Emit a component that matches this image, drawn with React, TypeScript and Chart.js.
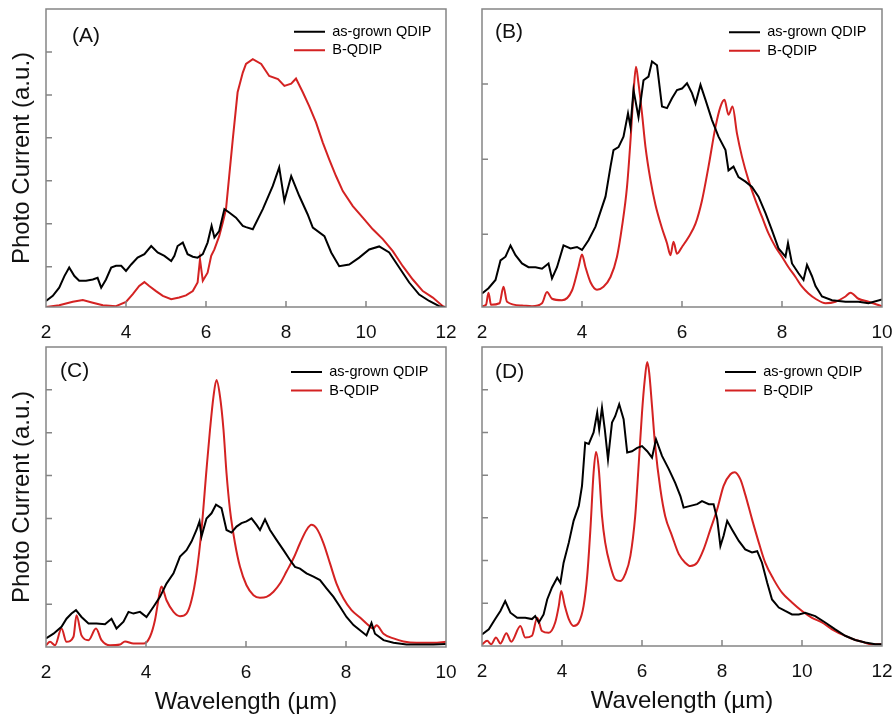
import React, { useEffect, useRef } from 'react';
import { Chart, registerables } from 'chart.js';

Chart.register(...registerables);

const W = 894;
const H = 717;
const FONT = "Arial, 'Liberation Sans', sans-serif";
const BLACK = '#000000';
const RED = '#d42222';
const TEXT = '#111111';
const FRAME = '#858585';

const seriesLabels = ['as-grown QDIP', 'B-QDIP'];
const panelLabels = ['(A)', '(B)', '(C)', '(D)'];
const yAxisTitle = 'Photo Current (a.u.)';
const xAxisTitle = 'Wavelength (\u00b5m)';

// ---------- Panel A ----------
const aBlackX = [2.0, 2.17, 2.33, 2.46, 2.58, 2.71, 2.83, 3.0, 3.17, 3.29, 3.38, 3.5, 3.63, 3.75, 3.88, 4.0, 4.13, 4.29, 4.46, 4.63, 4.79, 4.96, 5.13, 5.21, 5.29, 5.42, 5.54, 5.67, 5.79, 5.92, 6.04, 6.14, 6.21, 6.33, 6.46, 6.58, 6.75, 6.92, 7.0, 7.17, 7.42, 7.67, 7.83, 7.96, 8.13, 8.33, 8.54, 8.67, 8.96, 9.13, 9.33, 9.58, 9.83, 10.08, 10.33, 10.58, 10.83, 11.08, 11.33, 11.58, 11.83, 12.0];
const aBlackY = [0.20, 0.32, 0.51, 0.78, 0.98, 0.78, 0.67, 0.67, 0.70, 0.74, 0.51, 0.70, 0.98, 1.02, 1.02, 0.90, 1.05, 1.21, 1.29, 1.48, 1.33, 1.25, 1.13, 1.25, 1.48, 1.56, 1.29, 1.23, 1.21, 1.29, 1.56, 1.95, 1.68, 1.83, 2.34, 2.26, 2.14, 1.95, 1.92, 1.87, 2.34, 2.88, 3.31, 2.53, 3.11, 2.65, 2.22, 1.91, 1.71, 1.33, 1.01, 1.05, 1.21, 1.40, 1.47, 1.33, 0.98, 0.63, 0.35, 0.20, 0.08, 0.05];
const aRedX = [2.0, 2.33, 2.67, 2.92, 3.17, 3.42, 3.75, 4.0, 4.17, 4.33, 4.46, 4.58, 4.75, 4.92, 5.13, 5.33, 5.5, 5.67, 5.79, 5.85, 5.92, 6.04, 6.13, 6.21, 6.33, 6.42, 6.5, 6.58, 6.67, 6.79, 6.92, 7.0, 7.17, 7.38, 7.58, 7.8, 7.96, 8.13, 8.25, 8.42, 8.58, 8.75, 8.92, 9.08, 9.25, 9.42, 9.67, 9.92, 10.17, 10.42, 10.67, 10.92, 11.17, 11.42, 11.67, 11.92, 12.0];
const aRedY = [0.06, 0.10, 0.18, 0.22, 0.16, 0.10, 0.08, 0.18, 0.36, 0.55, 0.64, 0.55, 0.43, 0.32, 0.24, 0.28, 0.33, 0.43, 0.63, 1.17, 0.67, 0.86, 1.25, 1.40, 1.71, 2.03, 2.34, 3.11, 3.97, 5.06, 5.52, 5.72, 5.83, 5.72, 5.44, 5.37, 5.21, 5.26, 5.38, 5.06, 4.74, 4.36, 3.89, 3.50, 3.11, 2.76, 2.41, 2.14, 1.87, 1.64, 1.36, 1.01, 0.70, 0.43, 0.28, 0.08, 0.05];

// ---------- Panel B ----------
const bBlackX = [2, 2.13, 2.27, 2.37, 2.47, 2.57, 2.67, 2.8, 2.93, 3.07, 3.2, 3.33, 3.4, 3.5, 3.63, 3.77, 3.9, 4.0, 4.13, 4.27, 4.37, 4.47, 4.57, 4.63, 4.73, 4.83, 4.92, 4.97, 5.03, 5.13, 5.23, 5.33, 5.4, 5.5, 5.6, 5.7, 5.8, 5.9, 6.0, 6.1, 6.2, 6.27, 6.37, 6.47, 6.6, 6.73, 6.87, 6.93, 7.03, 7.13, 7.27, 7.4, 7.53, 7.67, 7.8, 7.93, 8.07, 8.12, 8.2, 8.33, 8.43, 8.5, 8.6, 8.67, 8.8, 9.0, 9.27, 9.53, 9.73, 10];
const bBlackY = [0.21, 0.28, 0.39, 0.65, 0.70, 0.85, 0.72, 0.61, 0.56, 0.56, 0.54, 0.61, 0.41, 0.56, 0.85, 0.81, 0.83, 0.79, 0.92, 1.10, 1.30, 1.50, 1.90, 2.12, 2.16, 2.30, 2.61, 2.43, 2.92, 2.56, 3.05, 3.10, 3.30, 3.25, 2.70, 2.68, 2.81, 2.92, 2.94, 3.01, 2.88, 2.74, 2.99, 2.79, 2.52, 2.30, 2.12, 1.85, 1.90, 1.76, 1.70, 1.63, 1.50, 1.28, 1.05, 0.81, 0.70, 0.88, 0.61, 0.48, 0.39, 0.59, 0.44, 0.31, 0.17, 0.12, 0.10, 0.10, 0.08, 0.13];
const bRedX = [2, 2.08, 2.13, 2.18, 2.35, 2.43, 2.5, 2.8, 3.0, 3.2, 3.3, 3.4, 3.6, 3.8, 3.93, 4.0, 4.07, 4.17, 4.3, 4.43, 4.57, 4.7, 4.8, 4.9, 4.97, 5.03, 5.08, 5.13, 5.2, 5.27, 5.37, 5.47, 5.6, 5.7, 5.77, 5.83, 5.9, 6.0, 6.13, 6.27, 6.4, 6.53, 6.67, 6.77, 6.85, 6.93, 7.01, 7.1, 7.2, 7.33, 7.47, 7.6, 7.73, 7.87, 8.0, 8.13, 8.27, 8.4, 8.53, 8.67, 8.87, 9.07, 9.27, 9.37, 9.53, 9.73, 10];
const bRedY = [0.04, 0.06, 0.22, 0.06, 0.08, 0.30, 0.10, 0.05, 0.04, 0.08, 0.23, 0.14, 0.12, 0.25, 0.56, 0.73, 0.56, 0.36, 0.26, 0.30, 0.43, 0.70, 1.10, 1.63, 2.25, 2.88, 3.23, 3.01, 2.61, 2.16, 1.72, 1.39, 1.08, 0.88, 0.72, 0.90, 0.74, 0.83, 0.96, 1.14, 1.45, 1.90, 2.43, 2.70, 2.79, 2.59, 2.70, 2.34, 2.03, 1.72, 1.45, 1.23, 1.01, 0.83, 0.70, 0.56, 0.43, 0.30, 0.21, 0.14, 0.08, 0.10, 0.17, 0.22, 0.14, 0.10, 0.04];

// ---------- Panel C ----------
const cBlackX = [2, 2.15, 2.31, 2.41, 2.51, 2.6, 2.71, 2.85, 3.01, 3.18, 3.31, 3.41, 3.55, 3.65, 3.75, 3.88, 4.01, 4.15, 4.28, 4.41, 4.55, 4.68, 4.81, 4.91, 5.01, 5.07, 5.11, 5.21, 5.31, 5.4, 5.51, 5.61, 5.71, 5.81, 5.91, 6.01, 6.11, 6.21, 6.28, 6.38, 6.48, 6.61, 6.75, 6.88, 6.98, 7.08, 7.21, 7.35, 7.48, 7.61, 7.75, 7.88, 8.01, 8.15, 8.28, 8.41, 8.51, 8.58, 8.75, 8.95, 9.21, 9.48, 9.75, 10];
const cBlackY = [0.20, 0.31, 0.47, 0.66, 0.78, 0.86, 0.70, 0.55, 0.55, 0.53, 0.66, 0.43, 0.59, 0.82, 0.78, 0.82, 0.70, 0.94, 1.17, 1.48, 1.72, 2.11, 2.26, 2.46, 2.73, 2.93, 2.58, 3.0, 3.12, 3.32, 3.24, 2.73, 2.67, 2.81, 2.89, 2.93, 3.0, 2.85, 2.73, 2.98, 2.73, 2.50, 2.26, 2.03, 1.87, 1.83, 1.72, 1.64, 1.56, 1.37, 1.17, 0.94, 0.70, 0.51, 0.39, 0.27, 0.56, 0.31, 0.16, 0.10, 0.06, 0.06, 0.06, 0.07];
const cRedX = [2, 2.08, 2.18, 2.31, 2.41, 2.55, 2.61, 2.71, 2.85, 3.0, 3.11, 3.28, 3.48, 3.58, 3.75, 3.95, 4.08, 4.18, 4.27, 4.31, 4.41, 4.55, 4.68, 4.81, 4.91, 5.01, 5.11, 5.21, 5.28, 5.35, 5.41, 5.48, 5.55, 5.61, 5.68, 5.78, 5.88, 6.01, 6.15, 6.28, 6.41, 6.55, 6.68, 6.81, 6.95, 7.08, 7.21, 7.31, 7.41, 7.55, 7.68, 7.81, 7.95, 8.11, 8.28, 8.41, 8.55, 8.61, 8.75, 8.95, 9.15, 9.41, 9.75, 10];
const cRedY = [0.04, 0.12, 0.04, 0.43, 0.12, 0.24, 0.74, 0.27, 0.16, 0.43, 0.16, 0.04, 0.06, 0.13, 0.08, 0.08, 0.24, 0.63, 1.25, 1.41, 1.09, 0.82, 0.72, 0.78, 1.09, 1.72, 2.73, 4.14, 5.07, 5.85, 6.23, 5.85, 5.07, 4.06, 3.20, 2.42, 1.87, 1.44, 1.21, 1.15, 1.17, 1.29, 1.48, 1.76, 2.07, 2.42, 2.73, 2.85, 2.77, 2.42, 1.95, 1.48, 1.13, 0.86, 0.69, 0.55, 0.43, 0.51, 0.31, 0.20, 0.13, 0.10, 0.10, 0.12];

// ---------- Panel D ----------
const dBlackX = [2, 2.17, 2.33, 2.46, 2.58, 2.71, 2.88, 3.08, 3.25, 3.33, 3.42, 3.54, 3.63, 3.75, 3.88, 3.96, 4.04, 4.17, 4.29, 4.42, 4.5, 4.58, 4.67, 4.79, 4.88, 4.93, 5.0, 5.07, 5.15, 5.25, 5.33, 5.43, 5.54, 5.63, 5.75, 5.88, 6.0, 6.13, 6.25, 6.35, 6.5, 6.67, 6.83, 6.96, 7.04, 7.21, 7.38, 7.5, 7.67, 7.79, 7.88, 7.96, 8.04, 8.13, 8.25, 8.42, 8.58, 8.75, 8.88, 9.0, 9.13, 9.25, 9.42, 9.58, 9.75, 9.92, 10.08, 10.33, 10.58, 10.83, 11.08, 11.33, 11.58, 11.83, 12];
const dBlackY = [0.27, 0.39, 0.63, 0.82, 1.05, 0.78, 0.66, 0.66, 0.63, 0.70, 0.55, 0.74, 1.09, 1.37, 1.60, 1.48, 1.95, 2.42, 2.93, 3.28, 3.75, 4.76, 4.73, 5.0, 5.46, 5.07, 5.58, 5.07, 4.37, 5.23, 5.38, 5.66, 5.31, 4.53, 4.56, 4.64, 4.68, 4.56, 4.41, 4.84, 4.45, 4.14, 3.82, 3.51, 3.24, 3.28, 3.32, 3.39, 3.32, 3.32, 2.97, 2.34, 2.58, 2.93, 2.73, 2.46, 2.26, 2.19, 2.22, 1.95, 1.48, 1.09, 0.90, 0.82, 0.74, 0.74, 0.78, 0.70, 0.55, 0.39, 0.24, 0.14, 0.08, 0.04, 0.04];
const dRedX = [2, 2.13, 2.23, 2.35, 2.46, 2.61, 2.73, 2.96, 3.08, 3.25, 3.38, 3.5, 3.67, 3.83, 3.92, 3.98, 4.07, 4.17, 4.29, 4.42, 4.54, 4.63, 4.71, 4.79, 4.85, 4.92, 5.0, 5.08, 5.21, 5.33, 5.46, 5.58, 5.71, 5.83, 5.92, 6.0, 6.07, 6.13, 6.18, 6.25, 6.33, 6.46, 6.58, 6.75, 6.92, 7.08, 7.21, 7.38, 7.54, 7.71, 7.88, 8.04, 8.21, 8.32, 8.46, 8.58, 8.75, 8.92, 9.08, 9.29, 9.5, 9.75, 10.0, 10.25, 10.5, 10.75, 11.0, 11.25, 11.5, 11.75, 12];
const dRedY = [0.04, 0.12, 0.04, 0.20, 0.06, 0.30, 0.10, 0.47, 0.20, 0.24, 0.66, 0.35, 0.31, 0.55, 0.94, 1.29, 0.94, 0.63, 0.47, 0.55, 0.94, 1.64, 2.73, 4.06, 4.54, 4.14, 3.04, 2.42, 1.87, 1.56, 1.52, 1.68, 2.11, 3.04, 4.29, 5.46, 6.24, 6.65, 6.40, 5.62, 4.68, 3.67, 3.04, 2.58, 2.15, 1.95, 1.87, 1.95, 2.26, 2.73, 3.20, 3.75, 4.02, 4.07, 3.90, 3.55, 2.97, 2.42, 1.95, 1.56, 1.25, 1.02, 0.82, 0.66, 0.55, 0.39, 0.27, 0.17, 0.10, 0.04, 0.04];

type PanelSpec = {
  id: string;
  label: string;
  blackX: number[]; blackY: number[];
  redX: number[]; redY: number[];
  xMax: number; yMin: number; yMax: number;
  area: { l: number; t: number; r: number; b: number };
  yW: number; xH: number;
  showYTitle: boolean; showXTitle: boolean;
  labelDx: number; labelDy: number;
  legendDx: number; legendDy: number;
  redSmooth: boolean;
};

const panels: PanelSpec[] = [
  { id: 'A', label: panelLabels[0], blackX: aBlackX, blackY: aBlackY, redX: aRedX, redY: aRedY,
    xMax: 12, yMin: 0.06, yMax: 7, area: { l: 46, t: 9, r: 446, b: 307 }, yW: 46, xH: 40,
    showYTitle: true, showXTitle: false, labelDx: 26, labelDy: 27.4, legendDx: 152, legendDy: 22.7, redSmooth: false },
  { id: 'B', label: panelLabels[1], blackX: bBlackX, blackY: bBlackY, redX: bRedX, redY: bRedY,
    xMax: 10, yMin: 0.03, yMax: 4, area: { l: 482, t: 9, r: 882, b: 307 }, yW: 35, xH: 40,
    showYTitle: false, showXTitle: false, labelDx: 13, labelDy: 23.4, legendDx: 153, legendDy: 23.3, redSmooth: true },
  { id: 'C', label: panelLabels[2], blackX: cBlackX, blackY: cBlackY, redX: cRedX, redY: cRedY,
    xMax: 10, yMin: 0, yMax: 7, area: { l: 46, t: 347, r: 446, b: 647 }, yW: 46, xH: 70,
    showYTitle: true, showXTitle: true, labelDx: 14, labelDy: 24.4, legendDx: 155, legendDy: 25, redSmooth: true },
  { id: 'D', label: panelLabels[3], blackX: dBlackX, blackY: dBlackY, redX: dRedX, redY: dRedY,
    xMax: 12, yMin: 0, yMax: 7, area: { l: 482, t: 347, r: 882, b: 646 }, yW: 35, xH: 70,
    showYTitle: false, showXTitle: true, labelDx: 13, labelDy: 24.9, legendDx: 157, legendDy: 25, redSmooth: true },
];

const LEGEND_PAD = 4;
const LEGEND_FONT = 14.5;

const panelDecor = {
  id: 'panelDecor',
  afterLayout(chart: any, _args: any, opts: any) {
    const lg = chart.legend;
    const ca = chart.chartArea;
    if (!lg || !ca) return;
    const targetLeft = ca.right - opts.legendDx - LEGEND_PAD;
    const targetTop = ca.top + opts.legendDy - LEGEND_PAD - LEGEND_FONT / 2;
    const dx = targetLeft - lg.left;
    const dy = targetTop - lg.top;
    lg.left += dx; lg.right += dx;
    lg.top += dy; lg.bottom += dy;
  },
  afterDraw(chart: any, _args: any, opts: any) {
    const { ctx, chartArea: ca } = chart;
    const xs = chart.scales.x;
    const ys = chart.scales.y;
    ctx.save();
    ctx.strokeStyle = FRAME;
    ctx.lineWidth = 1.5;
    ctx.strokeRect(ca.left, ca.top, ca.right - ca.left, ca.bottom - ca.top);
    ctx.beginPath();
    xs.ticks.forEach((t: any) => {
      if (t.value > xs.min + 1e-6 && t.value < xs.max - 1e-6) {
        const p = xs.getPixelForValue(t.value);
        ctx.moveTo(p, ca.bottom);
        ctx.lineTo(p, ca.bottom - 6);
      }
    });
    for (let v = Math.ceil(ys.min + 1e-6); v < ys.max - 1e-6; v += 1) {
      const p = ys.getPixelForValue(v);
      ctx.moveTo(ca.left, p);
      ctx.lineTo(ca.left + 6, p);
    }
    ctx.stroke();
    ctx.fillStyle = TEXT;
    ctx.font = `21px ${FONT}`;
    ctx.textBaseline = 'middle';
    ctx.textAlign = 'left';
    ctx.fillText(opts.label, ca.left + opts.labelDx, ca.top + opts.labelDy);
    ctx.restore();
  },
};

const pts = (xs: number[], ys: number[]) => xs.map((x, i) => ({ x, y: ys[i] }));

function buildConfig(p: PanelSpec): any {
  return {
    type: 'line',
    data: {
      datasets: [
        { label: seriesLabels[0], data: pts(p.blackX, p.blackY), borderColor: BLACK, backgroundColor: BLACK,
          borderWidth: 2, pointRadius: 0, tension: 0, fill: false },
        { label: seriesLabels[1], data: pts(p.redX, p.redY), borderColor: RED, backgroundColor: RED,
          borderWidth: 2, pointRadius: 0, tension: 0, fill: false,
          cubicInterpolationMode: p.redSmooth ? 'monotone' : 'default' },
      ],
    },
    options: {
      responsive: false,
      animation: false,
      events: [],
      layout: {
        padding: {
          left: p.area.l - p.yW,
          top: p.area.t,
          right: W - p.area.r,
          bottom: H - p.area.b - p.xH,
        },
      },
      scales: {
        x: {
          type: 'linear', min: 2, max: p.xMax,
          grid: { display: false }, border: { display: false },
          ticks: { stepSize: 2, padding: 6, color: TEXT, maxRotation: 0, autoSkip: false,
            font: { family: FONT, size: 19 } },
          title: { display: p.showXTitle, text: xAxisTitle, color: TEXT,
            font: { family: FONT, size: 24 }, padding: { top: 0, bottom: 0 } },
          afterFit: (s: any) => { s.height = p.xH; s.paddingLeft = 0; s.paddingRight = 0; },
        },
        y: {
          type: 'linear', min: p.yMin, max: p.yMax,
          grid: { display: false }, border: { display: false },
          ticks: { display: false, stepSize: 1 },
          title: { display: p.showYTitle, text: yAxisTitle, color: TEXT,
            font: { family: FONT, size: 24 }, padding: { top: 7.6, bottom: 0 } },
          afterFit: (s: any) => { s.width = p.yW; s.paddingTop = 0; s.paddingBottom = 0; },
        },
      },
      plugins: {
        legend: {
          display: true, position: 'chartArea', align: 'start',
          labels: { boxWidth: 31, boxHeight: 0, padding: LEGEND_PAD, color: '#000',
            font: { family: FONT, size: LEGEND_FONT } },
        },
        tooltip: { enabled: false },
        title: { display: false },
        panelDecor: { label: p.label, labelDx: p.labelDx, labelDy: p.labelDy,
          legendDx: p.legendDx, legendDy: p.legendDy },
      },
    },
    plugins: [panelDecor],
  };
}

function PanelChart({ p }: { p: PanelSpec }) {
  const ref = useRef<HTMLCanvasElement | null>(null);
  useEffect(() => {
    const c = ref.current;
    if (!c) return;
    const chart = new Chart(c, buildConfig(p));
    return () => chart.destroy();
  }, [p]);
  return (
    <canvas ref={ref} width={W} height={H}
      style={{ position: 'absolute', left: 0, top: 0, width: W, height: H }} />
  );
}

export default function App() {
  return (
    <div style={{ position: 'absolute', left: 0, top: 0, width: W, height: H, background: '#fff', overflow: 'hidden' }}>
      {panels.map((p) => <PanelChart key={p.id} p={p} />)}
    </div>
  );
}
